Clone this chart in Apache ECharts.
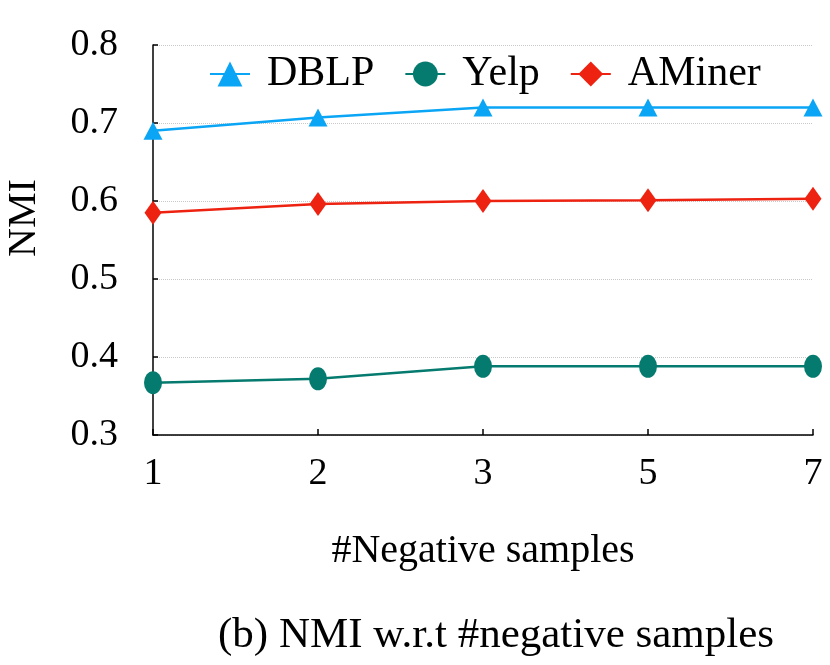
<!DOCTYPE html>
<html><head><meta charset="utf-8">
<script src="https://cdn.jsdelivr.net/npm/echarts@6/dist/echarts.min.js"></script>
<style>html,body{margin:0;padding:0;background:#fff}#c{width:830px;height:665px}</style>
</head><body><div id="c"></div>
<script>
const categories = ['1', '2', '3', '5', '7'];
const dblp = [0.690, 0.707, 0.720, 0.720, 0.720];
const yelp = [0.367, 0.372, 0.388, 0.388, 0.388];
const aminer = [0.585, 0.596, 0.600, 0.601, 0.603];
const yTicks = [0.3, 0.4, 0.5, 0.6, 0.7, 0.8];

const font = 'Liberation Serif';
const chart = echarts.init(document.getElementById('c'), null, {renderer: 'canvas'});
chart.setOption({
  backgroundColor: '#fff',
  animation: false,
  grid: {left: 153, right: 17, top: 45, bottom: 230, containLabel: false, outerBoundsMode: 'none'},
  legend: {
    left: 204, top: 48, itemWidth: 40, itemHeight: 31, itemGap: 30,
    textStyle: {fontFamily: font, fontSize: 42, color: '#000', padding: [0, 0, 0, 12]},
    data: ['DBLP', 'Yelp', 'AMiner']
  },
  xAxis: {
    type: 'category', data: categories, boundaryGap: false,
    name: '#Negative samples', nameLocation: 'middle', nameGap: 96,
    nameTextStyle: {fontFamily: font, fontSize: 40, color: '#000'},
    axisLine: {lineStyle: {color: '#000', width: 1.5}},
    axisTick: {inside: true, length: 6, lineStyle: {color: '#000', width: 1.5}, alignWithLabel: true},
    axisLabel: {fontFamily: font, fontSize: 38, color: '#000', margin: 20},
    splitLine: {show: false}
  },
  yAxis: {
    type: 'value', min: 0.3, max: 0.8, interval: 0.1,
    axisLine: {show: true, lineStyle: {color: '#000', width: 1.5}},
    axisTick: {show: true, inside: true, length: 5, lineStyle: {color: '#000', width: 1.5}},
    axisLabel: {fontFamily: font, fontSize: 38, color: '#000', margin: 35,
      formatter: v => yTicks.find(t => Math.abs(t - v) < 1e-6).toFixed(1)},
    splitLine: {show: true, lineStyle: {color: '#c8c8c8', type: 'dotted', width: 1}}
  },
  series: [
    {name: 'DBLP', type: 'line', data: dblp, symbol: 'triangle', symbolSize: [19, 18],
      color: '#0AA5F5', lineStyle: {width: 2.5, color: '#0AA5F5'}, itemStyle: {color: '#0AA5F5'}, z: 3},
    {name: 'Yelp', type: 'line', data: yelp, symbol: 'circle', symbolSize: [18, 23],
      color: '#057A6E', lineStyle: {width: 2.5, color: '#057A6E'}, itemStyle: {color: '#057A6E'}, z: 3},
    {name: 'AMiner', type: 'line', data: aminer, symbol: 'diamond', symbolSize: [17, 24],
      color: '#EE2211', lineStyle: {width: 2.5, color: '#EE2211'}, itemStyle: {color: '#EE2211'}, z: 3}
  ],
  graphic: [
    {type: 'text', x: 24, y: 218, rotation: Math.PI / 2,
      style: {text: 'NMI', font: '40px "Liberation Serif"', fill: '#000', align: 'center', verticalAlign: 'middle'}},
    {type: 'text', left: 218, top: 614,
      style: {text: '(b) NMI w.r.t #negative samples', font: '43px "Liberation Serif"', fill: '#000'}}
  ]
});
</script></body></html>
